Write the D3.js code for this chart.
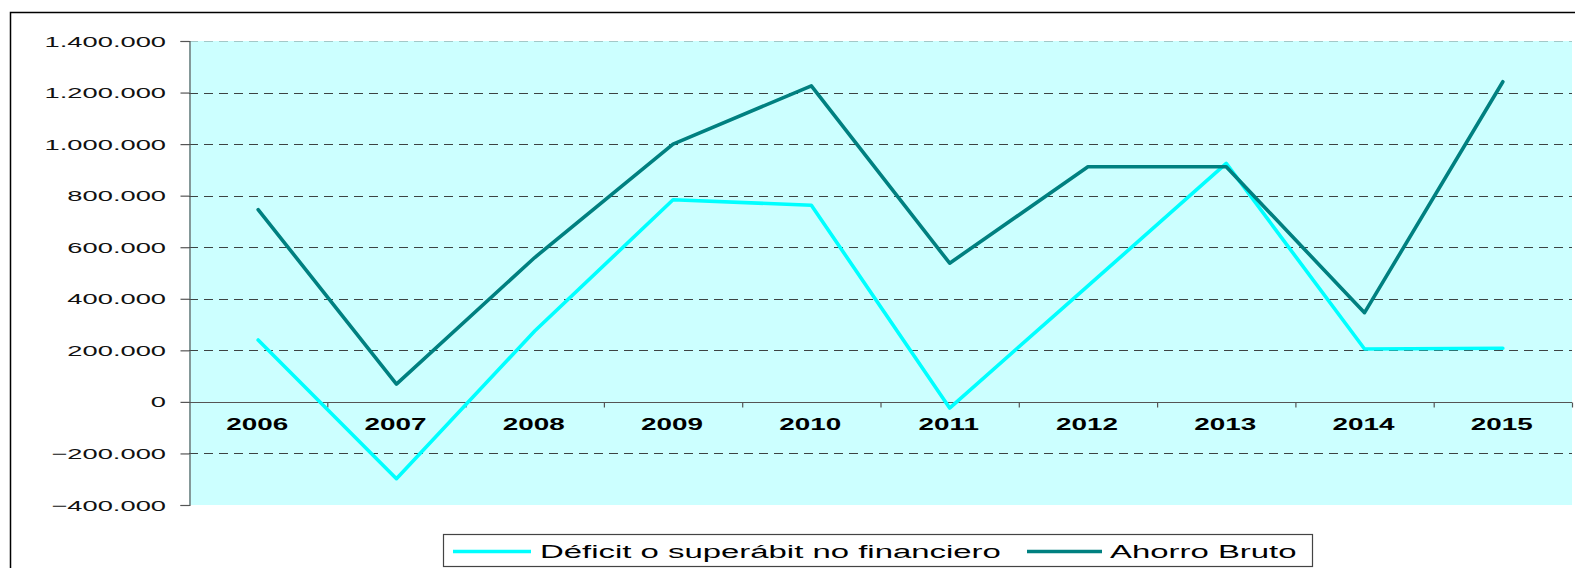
<!DOCTYPE html>
<html>
<head>
<meta charset="utf-8">
<script src="https://cdn.jsdelivr.net/npm/d3@7"></script>
<style>
  html, body { margin: 0; padding: 0; background: #fff; }
  svg { display: block; }
  text { font-family: "Liberation Sans", Arial, sans-serif; }
</style>
</head>
<body>
<svg id="chart" width="1575" height="568"></svg>
<script>
// ---- data ----
const years = ["2006","2007","2008","2009","2010","2011","2012","2013","2014","2015"];
const deficit = [240000, -298000, 275000, 784000, 763000, -24000, 450000, 925000, 205000, 208000];
const ahorro  = [746000, 69000, 560000, 1000000, 1226000, 538000, 912000, 912000, 346000, 1242000];
const yTicks = [-400000, -200000, 0, 200000, 400000, 600000, 800000, 1000000, 1200000, 1400000];
const seriesNames = ["Déficit o superábit no financiero", "Ahorro Bruto"];
const seriesColors = ["#00FFFF", "#008080"];

// ---- layout ----
const svg = d3.select("#chart");
const pLeft = 189, pRight = 1572, pTop = 41, pBottom = 505;

const x = d3.scaleBand().domain(years).range([pLeft, pRight]).paddingInner(0).paddingOuter(0);
const y = d3.scaleLinear().domain([-400000, 1400000]).range([pBottom, pTop]);

const fmt = v => d3.format(",")(v).replace(/,/g, ".");

// outer border
svg.append("rect")
  .attr("x", 10.5).attr("y", 12.5).attr("width", 1620).attr("height", 620)
  .attr("fill", "none").attr("stroke", "#000").attr("stroke-width", 1.5);

// plot background
svg.append("rect")
  .attr("x", pLeft).attr("y", pTop).attr("width", pRight - pLeft).attr("height", pBottom - pTop)
  .attr("fill", "#CCFFFF");

// gridlines
svg.append("g").selectAll("line")
  .data(yTicks.filter(v => v !== 0 && v !== -400000))
  .join("line")
  .attr("x1", pLeft).attr("x2", pRight)
  .attr("y1", d => Math.round(y(d)) + 0.5).attr("y2", d => Math.round(y(d)) + 0.5)
  .attr("stroke", "#222")
  .attr("stroke-opacity", d => d === 1400000 ? 0.25 : 0.85)
  .attr("stroke-width", 1)
  .attr("stroke-dasharray", "9,6");

// y axis
const yAxis = svg.append("g")
  .attr("transform", `translate(${pLeft + 0.5},0)`)
  .call(d3.axisLeft(y).tickValues(yTicks).tickSize(9).tickFormat(""));
yAxis.select(".domain").attr("stroke", "#555").attr("stroke-width", 1.2);
yAxis.selectAll(".tick line").attr("stroke", "#555").attr("stroke-width", 1.2);

// y labels (horizontally stretched like the original)
const yLab = svg.append("g").selectAll("g")
  .data(yTicks).join("g")
  .attr("transform", d => `translate(166,${y(d) + 5.5})`);
yLab.append("text")
  .attr("transform", "scale(1.82,1)")
  .attr("text-anchor", "end")
  .attr("font-size", 15)
  .attr("fill", "#111")
  .text(d => fmt(d));

// x axis at zero
const xAxis = svg.append("g")
  .attr("transform", `translate(0,${Math.round(y(0)) + 0.5})`);
xAxis.append("line")
  .attr("x1", pLeft).attr("x2", pRight)
  .attr("stroke", "#555").attr("stroke-width", 1.2);
xAxis.selectAll("line.tk")
  .data(years.slice(1).concat(["end"]))
  .join("line").attr("class", "tk")
  .attr("x1", (d, i) => (i < years.length - 1 ? x(d) : pRight) + 0.5)
  .attr("x2", (d, i) => (i < years.length - 1 ? x(d) : pRight) + 0.5)
  .attr("y1", 0).attr("y2", 5)
  .attr("stroke", "#555").attr("stroke-width", 1.2);

// year labels
const xLab = svg.append("g").selectAll("g")
  .data(years).join("g")
  .attr("transform", d => `translate(${x(d) + x.bandwidth() / 2 - 1},430)`);
xLab.append("text")
  .attr("transform", "scale(1.64,1)")
  .attr("text-anchor", "middle")
  .attr("font-size", 17)
  .attr("font-weight", "bold")
  .attr("fill", "#000")
  .text(d => d);

// lines
const line = d3.line()
  .x((d, i) => x(years[i]) + x.bandwidth() / 2)
  .y(d => y(d));

[deficit, ahorro].forEach((s, k) => {
  svg.append("path")
    .datum(s)
    .attr("d", line)
    .attr("fill", "none")
    .attr("stroke", seriesColors[k])
    .attr("stroke-width", 3.6)
    .attr("stroke-linejoin", "round")
    .attr("stroke-linecap", "round");
});

// legend
const lg = svg.append("g");
lg.append("rect")
  .attr("x", 443.5).attr("y", 534.5).attr("width", 869).attr("height", 32)
  .attr("fill", "#fff").attr("stroke", "#444").attr("stroke-width", 1.2);
const legendItems = [
  { x1: 453, x2: 531, tx: 540 },
  { x1: 1027, x2: 1102, tx: 1110 }
];
legendItems.forEach((it, k) => {
  lg.append("line")
    .attr("x1", it.x1).attr("x2", it.x2).attr("y1", 551.5).attr("y2", 551.5)
    .attr("stroke", seriesColors[k]).attr("stroke-width", 3.6);
  lg.append("g").attr("transform", `translate(${it.tx},557.5)`)
    .append("text")
    .attr("transform", "scale(1.77,1)")
    .attr("font-size", 18.6)
    .attr("fill", "#000")
    .text(seriesNames[k]);
});
</script>
</body>
</html>
